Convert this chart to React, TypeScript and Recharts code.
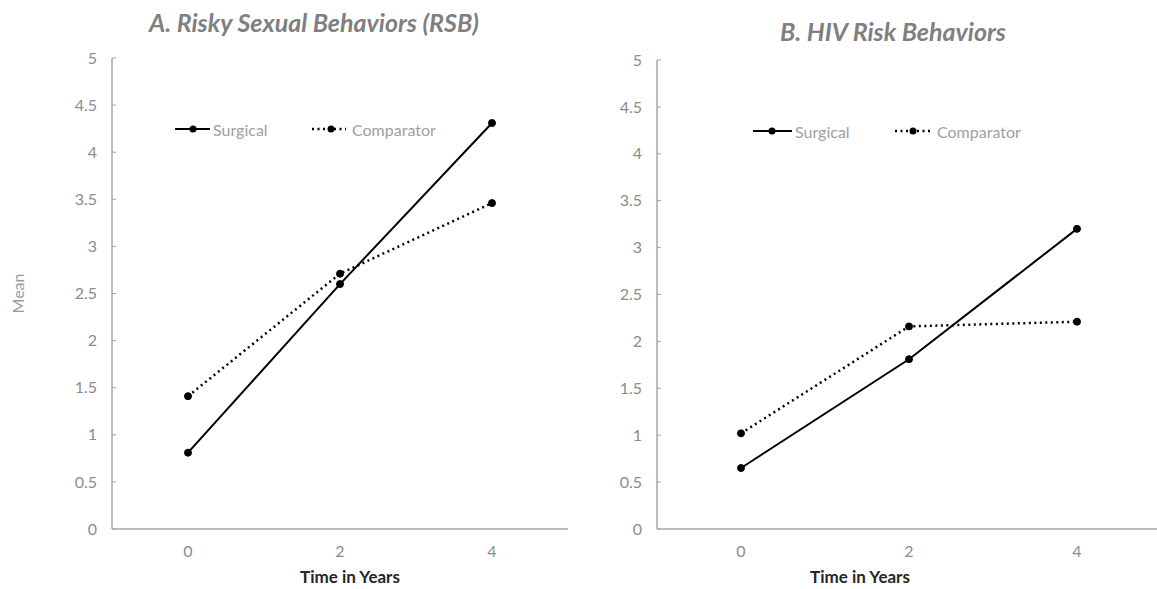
import { LineChart, Line, XAxis, YAxis } from "recharts";

const years = ["0", "2", "4"];
const rsbSurgical = [0.81, 2.6, 4.31];
const rsbComparator = [1.41, 2.71, 3.46];
const hivSurgical = [0.65, 1.81, 3.2];
const hivComparator = [1.02, 2.16, 2.21];
const yTicks = [0, 0.5, 1, 1.5, 2, 2.5, 3, 3.5, 4, 4.5, 5];

const FONT = "Lato, 'Open Sans', sans-serif";
const AXIS = "#a6a6a6";
const TICK = "#8c8c8c";

const rsbData = years.map((y, i) => ({ year: y, surgical: rsbSurgical[i], comparator: rsbComparator[i] }));
const hivData = years.map((y, i) => ({ year: y, surgical: hivSurgical[i], comparator: hivComparator[i] }));

function Swatch({ x, y, w, dotX, dashed }: { x: number; y: number; w: number; dotX: number; dashed?: boolean }) {
  return (
    <svg style={{ position: "absolute", left: x, top: y - 6 }} width={w} height={12}>
      <line
        x1={0}
        y1={6}
        x2={w}
        y2={6}
        stroke="#000"
        strokeWidth={dashed ? 2.5 : 2}
        strokeDasharray={dashed ? "2 3.5" : undefined}
      />
      <circle cx={dotX - x} cy={6} r={3.5} fill="#000" />
    </svg>
  );
}

function Txt({
  x,
  y,
  text,
  size,
  color,
  bold,
  italic,
  center,
}: {
  x: number;
  y: number;
  text: string;
  size: number;
  color: string;
  bold?: boolean;
  italic?: boolean;
  center?: boolean;
}) {
  return (
    <div
      style={{
        position: "absolute",
        left: center ? x - 300 : x,
        width: center ? 600 : undefined,
        top: y - size * 0.65,
        textAlign: center ? "center" : "left",
        fontSize: size,
        lineHeight: `${Math.round(size * 1.3)}px`,
        fontWeight: bold ? 700 : 400,
        fontStyle: italic ? "italic" : "normal",
        color,
        fontFamily: FONT,
        whiteSpace: "nowrap",
      }}
    >
      {text}
    </div>
  );
}

function Panel({
  data,
  width,
  top,
  right,
  pad,
  showMean,
}: {
  data: { year: string; surgical: number; comparator: number }[];
  width: number;
  top: number;
  right: number;
  pad: number;
  showMean?: boolean;
}) {
  return (
    <LineChart width={width} height={589} data={data} margin={{ top, right, left: 0, bottom: 0 }}>
      <XAxis
        dataKey="year"
        type="category"
        height={60}
        padding={{ left: pad, right: pad }}
        axisLine={{ stroke: AXIS, strokeWidth: 1.5 }}
        tickLine={false}
        tickSize={0}
        tickMargin={17}
        tick={{ fill: TICK, fontSize: 16, fontFamily: FONT }}
      />
      <YAxis
        type="number"
        domain={[0, 5]}
        ticks={yTicks}
        interval={0}
        width={112}
        axisLine={{ stroke: AXIS, strokeWidth: 1.5 }}
        tickLine={{ stroke: AXIS }}
        tickSize={-4}
        tickMargin={19}
        tick={{ fill: TICK, fontSize: 16, fontFamily: FONT }}
        label={
          showMean
            ? {
                value: "Mean",
                angle: -90,
                position: "insideLeft",
                offset: 18,
                fill: "#9a9a9a",
                fontSize: 16,
                fontFamily: FONT,
                style: { textAnchor: "middle" },
              }
            : undefined
        }
      />
      <Line
        dataKey="surgical"
        stroke="#000"
        strokeWidth={2}
        dot={{ r: 3.5, fill: "#000", stroke: "#000", strokeWidth: 1 }}
        isAnimationActive={false}
      />
      <Line
        dataKey="comparator"
        stroke="#000"
        strokeWidth={2.5}
        strokeDasharray="2 3.5"
        dot={{ r: 3.5, fill: "#000", stroke: "#000", strokeWidth: 1, strokeDasharray: "0" }}
        isAnimationActive={false}
      />
    </LineChart>
  );
}

export default function App() {
  return (
    <div
      style={{
        position: "fixed",
        left: 0,
        top: 0,
        width: 1157,
        height: 589,
        overflow: "hidden",
        background: "#fff",
        fontFamily: FONT,
      }}
    >
      <div style={{ position: "absolute", left: 0, top: 0 }}>
        <Panel data={rsbData} width={580} top={58} right={12} pad={76} showMean />
      </div>
      <div style={{ position: "absolute", left: 545, top: 0 }}>
        <Panel data={hivData} width={630} top={60} right={14} pad={84} />
      </div>

      <Txt x={314} y={22} text="A. Risky Sexual Behaviors (RSB)" size={25} color="#7f7f7f" bold italic center />
      <Txt x={893} y={31} text="B. HIV Risk Behaviors" size={25} color="#7f7f7f" bold italic center />

      <Txt x={350} y={577} text="Time in Years" size={17} color="#262626" bold center />
      <Txt x={860} y={577} text="Time in Years" size={17} color="#262626" bold center />

      <Swatch x={175} y={129} w={35} dotX={193} />
      <Txt x={213} y={129} text="Surgical" size={16} color="#a0a0a0" />
      <Swatch x={312} y={129} w={34} dotX={331} dashed />
      <Txt x={352} y={129} text="Comparator" size={16} color="#a0a0a0" />

      <Swatch x={753} y={131} w={39} dotX={772} />
      <Txt x={795} y={131} text="Surgical" size={16} color="#a0a0a0" />
      <Swatch x={895} y={131} w={37} dotX={913} dashed />
      <Txt x={937} y={131} text="Comparator" size={16} color="#a0a0a0" />
    </div>
  );
}
